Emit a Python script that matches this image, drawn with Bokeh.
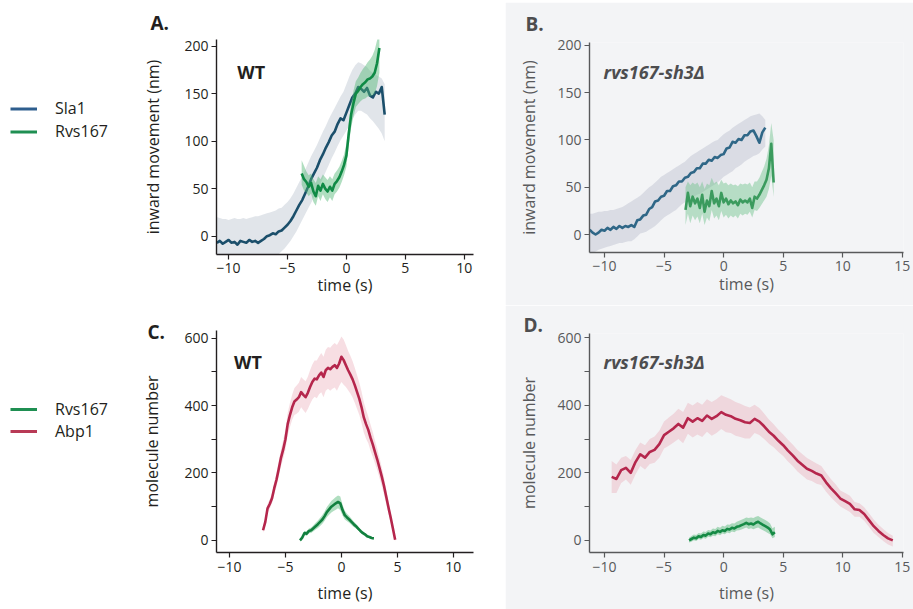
import numpy as np
from bokeh.plotting import figure
from bokeh.layouts import row, column
from bokeh.models import Label, Legend, LegendItem, FixedTicker, Range1d, Spacer
from bokeh.embed import file_html
from bokeh.resources import INLINE

FONT = "Open Sans"

# ---------------- data ----------------
# Panel A (WT, inward movement)
a_sla1_t0, a_sla1_dt = -11.0, 0.25
a_sla1 = [-7, -5, -8, -6, -4, -7, -6, -9, -5, -6, -7, -4, -6, -5, -7, -5,
          -3, 0, 1, 3, 2, 5, 6, 9, 12, 16, 21, 27, 33, 38, 45, 52, 60, 66, 72, 80,
          86, 93, 99, 106, 110, 118, 124, 122, 130, 138, 146, 150, 157, 155, 152, 156,
          148, 146, 152, 150, 157, 128]
a_sla1_hi = [20, 19, 18, 18, 17, 18, 19, 18, 18, 19, 18, 19, 20, 21, 21, 22,
             23, 24, 25, 26, 27, 29, 30, 33, 36, 40, 45, 51, 57, 63, 70, 77, 84, 90, 96, 103,
             110, 116, 123, 129, 135, 141, 147, 152, 160, 168, 175, 180, 183, 182, 180, 178,
             174, 172, 170, 168, 166, 160]
a_sla1_lo = [-34, -35, -34, -33, -32, -33, -32, -31, -31, -30, -30, -29, -29, -28, -28, -27,
             -26, -25, -24, -23, -21, -19, -16, -13, -9, -5, 0, 5, 11, 17, 23, 29, 35, 41, 47, 54,
             61, 68, 75, 82, 88, 95, 101, 106, 111, 117, 123, 128, 132, 132, 130, 128,
             124, 121, 117, 113, 108, 100]
a_rvs_t0, a_rvs_dt = -3.8, 0.2
a_rvs = [66, 60, 57, 52, 56, 47, 42, 53, 48, 55, 50, 47, 52, 48, 55, 58, 62, 68, 75, 85,
         108, 128, 140, 150, 153, 157, 160, 162, 165, 166, 168, 172, 182, 198]
a_rvs_hi = [80, 74, 68, 64, 66, 60, 56, 63, 60, 65, 62, 59, 63, 60, 66, 69, 73, 79, 86, 97,
            120, 140, 153, 163, 167, 172, 176, 179, 183, 186, 190, 196, 206, 218]
a_rvs_lo = [54, 48, 46, 42, 45, 36, 32, 42, 37, 44, 39, 36, 41, 37, 44, 47, 51, 57, 64, 73,
            96, 114, 126, 136, 139, 142, 144, 145, 147, 147, 148, 150, 158, 172]

# Panel B (rvs167-sh3, inward movement)
b_sla1_t0, b_sla1_dt = -11.25, 0.25
b_sla1 = [5, 2, 0, 2, 5, 4, 7, 5, 8, 6, 9, 7, 9, 8, 10, 8,
          15, 16, 20, 21, 27, 29, 35, 36, 40, 41, 46, 46, 51, 52, 56, 56, 60, 61, 65, 66,
          70, 70, 75, 75, 79, 78, 82, 81, 84, 85, 91, 92, 98, 97, 101, 100, 105, 105, 109, 110,
          104, 97, 108, 113]
b_sla1_hi = [22, 22, 23, 24, 24, 25, 25, 26, 26, 27, 28, 29, 31, 33, 35, 37,
             39, 41, 44, 47, 50, 52, 55, 58, 61, 63, 65, 67, 69, 71, 73, 75, 77, 80, 83, 85,
             87, 89, 91, 93, 95, 97, 99, 100, 103, 106, 108, 110, 113, 115, 117, 119, 121, 123, 125, 126,
             127, 128, 125, 121]
b_sla1_lo = [-21, -19, -18, -16, -15, -14, -13, -12, -11, -10, -9, -9, -8, -7, -7, -5,
             -2, 1, 2, 3, 5, 7, 9, 12, 15, 18, 20, 22, 24, 26, 29, 32, 34, 36, 38, 40,
             42, 43, 45, 47, 49, 51, 53, 55, 58, 61, 63, 65, 67, 70, 72, 74, 77, 79, 81, 83,
             84, 86, 90, 93]
b_rvs_t0, b_rvs_dt = -3.2, 0.2
b_rvs = [26, 44, 30, 40, 33, 38, 28, 42, 24, 36, 30, 46, 33, 38, 30, 44, 34, 38, 32, 36,
         33, 35, 31, 37, 34, 36, 34, 38, 28, 40, 38, 42, 47, 52, 58, 70, 96, 55]
b_rvs_hi = [50, 56, 52, 55, 53, 55, 50, 56, 48, 54, 52, 60, 54, 56, 52, 58, 54, 55, 52, 54,
            52, 53, 51, 54, 53, 54, 53, 55, 50, 56, 56, 60, 66, 72, 80, 94, 118, 100]
b_rvs_lo = [10, 22, 12, 20, 15, 19, 12, 22, 10, 18, 14, 26, 17, 20, 15, 25, 18, 21, 17, 20,
            18, 20, 17, 22, 20, 22, 21, 24, 18, 26, 25, 28, 32, 36, 40, 48, 62, 40]

# Panel C (WT, molecule number)
c_abp_t0, c_abp_dt = -7.0, 0.2
c_abp = [30, 55, 95, 108, 125, 155, 180, 212, 245, 270, 300, 345, 372, 395, 412, 418, 425, 440, 432, 425,
         438, 455, 470, 480, 478, 490, 498, 485, 505, 512, 508, 515, 520, 512, 525, 545, 535, 520, 505, 492,
         478, 460, 440, 420, 395, 365, 345, 328, 305, 285, 262, 240, 215, 190, 162, 130, 98, 68, 35, 2]
c_abp_hi = [38, 65, 108, 122, 140, 172, 200, 235, 270, 298, 330, 378, 408, 432, 452, 460, 468, 485, 478, 472,
            486, 505, 522, 534, 534, 546, 556, 545, 566, 574, 572, 580, 586, 580, 592, 605, 596, 580, 562, 548,
            532, 512, 490, 468, 442, 410, 388, 368, 344, 322, 296, 272, 245, 218, 188, 152, 116, 82, 46, 8]
c_abp_lo = [22, 45, 82, 94, 110, 138, 160, 190, 220, 242, 270, 312, 336, 358, 372, 376, 382, 395, 386, 378,
            390, 405, 418, 426, 422, 434, 440, 425, 444, 450, 444, 450, 454, 444, 458, 470, 462, 455, 446, 436,
            424, 408, 390, 372, 348, 320, 302, 288, 266, 248, 228, 208, 185, 162, 136, 108, 80, 54, 24, -4]
c_rvs_t0, c_rvs_dt = -3.7, 0.2
c_rvs = [0, 8, 22, 20, 28, 30, 36, 42, 48, 55, 62, 72, 84, 92, 100, 105, 110, 114, 110, 90,
         75, 68, 62, 55, 48, 42, 35, 28, 22, 18, 12, 10, 7, 6]
c_rvs_hi = [4, 13, 28, 27, 35, 38, 45, 52, 59, 67, 75, 86, 99, 108, 117, 123, 129, 133, 130, 106,
            88, 79, 72, 64, 56, 49, 41, 33, 27, 22, 16, 13, 10, 9]
c_rvs_lo = [-4, 3, 16, 13, 21, 22, 27, 32, 37, 43, 49, 58, 69, 76, 83, 87, 91, 95, 90, 74,
            62, 57, 52, 46, 40, 35, 29, 23, 17, 14, 8, 7, 4, 3]

# Panel D (rvs167-sh3, molecule number)
d_abp_t0, d_abp_dt = -9.4, 0.4
d_abp = [188, 182, 208, 215, 200, 232, 255, 245, 262, 268, 285, 312, 322, 332, 345, 334, 362, 352, 362, 354,
         370, 360, 368, 380, 372, 368, 360, 356, 350, 348, 360, 352, 338, 322, 310, 295, 282, 266, 252, 236,
         224, 212, 206, 198, 192, 172, 155, 140, 124, 116, 108, 92, 90, 78, 60, 42, 28, 16, 6, 0]
d_abp_hi = [235, 225, 245, 250, 238, 268, 290, 282, 300, 308, 325, 352, 364, 375, 390, 380, 408, 400, 410, 402,
            418, 410, 418, 430, 424, 418, 410, 405, 398, 394, 402, 392, 376, 358, 344, 328, 314, 298, 284, 268,
            256, 244, 236, 228, 220, 200, 182, 166, 148, 140, 132, 114, 110, 98, 80, 62, 46, 34, 22, 14]
d_abp_lo = [140, 140, 170, 180, 165, 195, 220, 210, 226, 230, 245, 272, 280, 290, 300, 288, 316, 305, 314, 306,
            322, 310, 318, 330, 320, 318, 310, 306, 302, 302, 318, 312, 300, 286, 276, 262, 250, 234, 220, 204,
            192, 180, 176, 168, 164, 144, 128, 114, 100, 92, 84, 70, 70, 58, 40, 22, 10, -2, -12, -18]
d_rvs_t0, d_rvs_dt = -2.9, 0.2
d_rvs = [0, 4, 8, 6, 12, 10, 16, 14, 20, 18, 24, 22, 28, 25, 30, 28, 34, 32, 37, 35,
         40, 42, 45, 48, 52, 48, 50, 47, 52, 55, 50, 46, 42, 38, 32, 18, 24]
d_rvs_hi = [8, 13, 17, 16, 22, 20, 26, 25, 31, 29, 35, 34, 40, 37, 43, 41, 47, 46, 51, 50,
            55, 58, 61, 64, 68, 66, 68, 66, 70, 72, 68, 64, 60, 56, 50, 36, 40]
d_rvs_lo = [-6, -4, 0, -2, 4, 2, 7, 5, 11, 9, 14, 12, 18, 15, 20, 18, 23, 21, 26, 24,
            29, 30, 32, 35, 38, 34, 36, 33, 36, 38, 34, 30, 26, 22, 18, 6, 10]

x_ticks_wt = [-10, -5, 0, 5, 10]
x_ticks_mut = [-10, -5, 0, 5, 10, 15]
y_ticks_move = [0, 50, 100, 150, 200]
y_ticks_num = [0, 100, 200, 300, 400, 500, 600]
y_num_labels = {0: "0", 100: "", 200: "200", 300: "", 400: "400", 500: "", 600: "600"}

C_SLA1_A, C_SLA1_B = "#1b4f6b", "#2f6787"
C_RVS_A, C_RVS_B = "#0f8a45", "#3b9b5e"
C_ABP = "#b5264c"
BG_GRAY = "#f3f4f6"
DARK, GRAY = "#231f20", "#58595b"


def grid(t0, dt, vals):
    return np.round(t0 + dt * np.arange(len(vals)), 3)


def make_panel(width, height, mb, xr, yr, xticks, yticks, ylabel, dark, bg,
               letter, letter_offset, letter_standoff,
               ylabels=None, xstand=2, ystand=14, tstand=3):
    col = DARK if dark else GRAY
    p = figure(width=width, height=height, output_backend="svg", toolbar_location=None,
               x_range=Range1d(*xr), y_range=Range1d(*yr),
               min_border_left=mb[0], min_border_right=mb[1],
               min_border_top=mb[2], min_border_bottom=mb[3])
    p.background_fill_color = bg
    p.border_fill_color = bg
    p.outline_line_color = None
    p.grid.visible = False
    p.title.text = letter
    p.title.align = "left"
    p.title.offset = letter_offset
    p.title.standoff = letter_standoff
    p.title.text_font = FONT
    p.title.text_font_size = "19px"
    p.title.text_font_style = "bold"
    p.title.text_color = DARK if dark else "#4d4d4f"
    p.xaxis.ticker = FixedTicker(ticks=xticks)
    p.yaxis.ticker = FixedTicker(ticks=yticks)
    p.xaxis.major_label_overrides = {t: (str(t) if t >= 0 else "\u2212" + str(-t)) for t in xticks}
    if ylabels:
        p.yaxis.major_label_overrides = ylabels
    p.xaxis.axis_label = "time (s)"
    p.yaxis.axis_label = ylabel
    p.xaxis.axis_label_standoff = xstand
    p.yaxis.axis_label_standoff = ystand
    for ax in (p.xaxis[0], p.yaxis[0]):
        ax.axis_line_color = col
        ax.axis_line_width = 1.4
        ax.major_tick_line_color = col
        ax.major_tick_line_width = 1.2
        ax.major_tick_out = 5
        ax.major_tick_in = 0
        ax.minor_tick_line_color = None
        ax.major_label_text_font = FONT
        ax.major_label_text_font_size = "14px"
        ax.major_label_text_color = col
        ax.axis_label_text_font = FONT
        ax.axis_label_text_font_size = "16px"
        ax.axis_label_text_font_style = "normal"
        ax.axis_label_text_color = col
    p.xaxis.major_label_standoff = tstand
    p.yaxis.major_label_standoff = 3
    return p


def add_series(p, t0, dt, v, lo, hi, color, band_color, band_alpha):
    t = grid(t0, dt, v)
    p.varea(x=t, y1=lo, y2=hi, fill_color=band_color, fill_alpha=band_alpha)
    p.line(x=t, y=v, line_color=color, line_width=2.6, line_join="round")


def add_text(p, x, y, text, style, color):
    p.add_layout(Label(x=x, y=y, text=text, text_font=FONT, text_font_size="18px",
                       text_font_style=style, text_color=color,
                       text_align="left", text_baseline="middle"))


# ---------------- panel A ----------------
pa = make_panel(370, 305, (78, 32, 39, 51), (-11.03, 10.79), (-19.3, 207.0),
                x_ticks_wt, y_ticks_move, "inward movement (nm)", True, "white",
                "A.", -66, 7, xstand=-2, ystand=17)
add_series(pa, a_sla1_t0, a_sla1_dt, a_sla1, a_sla1_lo, a_sla1_hi, C_SLA1_A, "#c8cfd9", 0.55)
add_series(pa, a_rvs_t0, a_rvs_dt, a_rvs, a_rvs_lo, a_rvs_hi, C_RVS_A, "#4fb574", 0.45)
add_text(pa, -9.27, 172.3, "WT", "bold", DARK)

# ---------------- panel B ----------------
pb = make_panel(408, 303, (84, 10, 40, 53), (-11.26, 15.1), (-19.0, 203.0),
                x_ticks_mut, y_ticks_move, "inward movement (nm)", False, BG_GRAY,
                "B.", -64, 12, xstand=-1, ystand=14)
add_series(pb, b_sla1_t0, b_sla1_dt, b_sla1, b_sla1_lo, b_sla1_hi, C_SLA1_B, "#c4c9d6", 0.55)
add_series(pb, b_rvs_t0, b_rvs_dt, b_rvs, b_rvs_lo, b_rvs_hi, C_RVS_B, "#6cc08a", 0.45)
add_text(pb, -10.08, 171.6, "rvs167-sh3\u0394", "bold italic", "#4d4d4f")

# ---------------- panel C ----------------
pc = make_panel(370, 304, (81, 25, 25, 57), (-11.16, 11.8), (-36.0, 623.0),
                x_ticks_wt, y_ticks_num, "molecule number", True, "white",
                "C.", -69, -29, ylabels=y_num_labels, xstand=7, ystand=18, tstand=4)
add_series(pc, c_abp_t0, c_abp_dt, c_abp, c_abp_lo, c_abp_hi, C_ABP, "#e8a0b0", 0.35)
add_series(pc, c_rvs_t0, c_rvs_dt, c_rvs, c_rvs_lo, c_rvs_hi, "#12803f", "#4fb574", 0.45)
add_text(pc, -9.59, 529.0, "WT", "bold", DARK)

# ---------------- panel D ----------------
pd_ = make_panel(408, 304, (84, 10, 28, 57), (-11.26, 15.1), (-36.0, 613.0),
                 x_ticks_mut, y_ticks_num, "molecule number", False, BG_GRAY,
                 "D.", -66, -9, ylabels=y_num_labels, xstand=7, ystand=14, tstand=4)
add_series(pd_, d_abp_t0, d_abp_dt, d_abp, d_abp_lo, d_abp_hi, C_ABP, "#e8a0b0", 0.35)
add_series(pd_, d_rvs_t0, d_rvs_dt, d_rvs, d_rvs_lo, d_rvs_hi, "#158a45", "#4fb574", 0.45)
add_text(pd_, -10.08, 528.0, "rvs167-sh3\u0394", "bold italic", "#4d4d4f")


# ---------------- legends ----------------
def legend_fig(height, entries, vy, gh):
    p = figure(width=135, height=height, output_backend="svg", toolbar_location=None,
               x_range=Range1d(0, 1), y_range=Range1d(0, 1), min_border=0,
               x_axis_location=None, y_axis_location=None)
    p.grid.visible = False
    p.outline_line_color = None
    items = []
    for name, color in entries:
        r = p.line(x=[np.nan], y=[np.nan], line_color=color, line_width=3)
        items.append(LegendItem(label=name, renderers=[r]))
    leg = Legend(items=items, location=(10, vy), padding=0, margin=0, spacing=0,
                 glyph_width=27, glyph_height=gh, label_height=gh, label_standoff=18,
                 border_line_alpha=0, background_fill_alpha=0,
                 label_text_font=FONT, label_text_font_size="16px", label_text_color=DARK)
    p.add_layout(leg)
    return p


l1 = legend_fig(305, [("Sla1", "#2e5e8e"), ("Rvs167", "#1f8f52")], 162.5, 23)
l2 = legend_fig(304, [("Rvs167", "#1f8f52"), ("Abp1", "#b83a56")], 167, 22)

layout = row(column(l1, l2),
             column(pa, pc),
             column(Spacer(width=408, height=2), pb, pd_))
open("out.html", "w").write(file_html(layout, INLINE))
